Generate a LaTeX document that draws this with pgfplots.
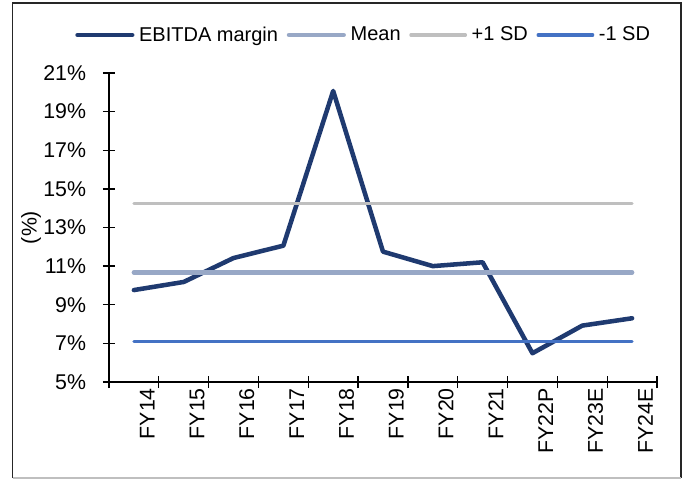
\documentclass[border=0pt]{standalone}
\usepackage{fontspec}
\setmainfont{Liberation Sans}
\usepackage{pgfplots}
\pgfplotsset{compat=1.18}

\definecolor{navy}{HTML}{1F3A70}
\definecolor{meancol}{HTML}{98A8C6}
\definecolor{sdhigh}{HTML}{BFBFBF}
\definecolor{sdlow}{HTML}{4472C4}

\newcommand{\chartfont}{\fontsize{15pt}{18pt}\selectfont}
\newcommand{\tickfont}{\fontsize{16pt}{19pt}\selectfont}

\begin{document}
\begin{tikzpicture}[x=1pt,y=1pt]
  % page size: 686 x 479 px at 0.75 pt per px
  \useasboundingbox (0,0) rectangle (514.5,359.25);
  % outer frame
  \draw[line width=1.1pt, black!85] (9.5,0.75) -- (9.5,357) -- (510.75,357) -- (510.75,0.75);
  \draw[line width=1.1pt, black!25] (9.5,0.75) -- (510.75,0.75);

  \begin{axis}[
    at={(81.75pt,72.75pt)}, anchor=south west,
    scale only axis, width=411pt, height=231.75pt,
    font=\chartfont,
    xmin=-0.5, xmax=10.5, ymin=5, ymax=21,
    axis x line*=bottom, axis y line*=left,
    axis line style={-, line width=1pt, black},
    tick align=center,
    xtick={0,...,10},
    xticklabels={{\tickfont FY14},{\tickfont FY15},{\tickfont FY16},{\tickfont FY17},
      {\tickfont FY18},{\tickfont FY19},{\tickfont FY20},{\tickfont FY21},
      {\tickfont FY22P},{\tickfont FY23E},{\tickfont FY24E}},
    major x tick style={draw=none},
    minor xtick={-0.5,0.5,...,10.5},
    minor x tick style={line width=1pt, black},
    minor tick length=9pt,
    xticklabel style={rotate=90, anchor=east, inner sep=0pt, yshift=-10pt},
    ytick={5,7,...,21},
    yticklabels={{\tickfont 5\%},{\tickfont 7\%},{\tickfont 9\%},{\tickfont 11\%},
      {\tickfont 13\%},{\tickfont 15\%},{\tickfont 17\%},{\tickfont 19\%},{\tickfont 21\%}},
    y tick style={line width=1pt, black},
    major tick length=9pt,
    yticklabel style={anchor=east, inner sep=0pt, xshift=-12.5pt},
    ylabel={\tickfont (\%)},
    ylabel style={at={(axis description cs:-0.142,0.5)}, anchor=center},
    legend columns=4,
    legend style={draw=none, fill=none, inner sep=0pt, anchor=west,
      at={(axis description cs:-0.062,1.123)},
      font=\chartfont,
      nodes={inner sep=1.5pt},
      /tikz/every odd column/.append style={column sep=2pt},
      /tikz/every even column/.append style={column sep=5pt}},
    legend image code/.code={\draw[#1] (0pt,0pt) -- (41pt,0pt);},
  ]
    \addplot[navy, line width=3.4pt, line join=round, line cap=round] coordinates {
      (0,9.76) (1,10.18) (2,11.42) (3,12.06) (4,20.07) (5,11.75)
      (6,11.00) (7,11.20) (8,6.49) (9,7.92) (10,8.30)};
    \addlegendentry{EBITDA margin}
    \addplot[meancol, line width=3.4pt, line cap=round] coordinates {(0,10.68) (10,10.68)};
    \addlegendentry{Mean}
    \addplot[sdhigh, line width=2.3pt, line cap=round] coordinates {(0,14.23) (10,14.23)};
    \addlegendentry{+1 SD}
    \addplot[sdlow, line width=2.3pt, line cap=round] coordinates {(0,7.11) (10,7.11)};
    \addlegendentry{-1 SD}
  \end{axis}
\end{tikzpicture}
\end{document}
